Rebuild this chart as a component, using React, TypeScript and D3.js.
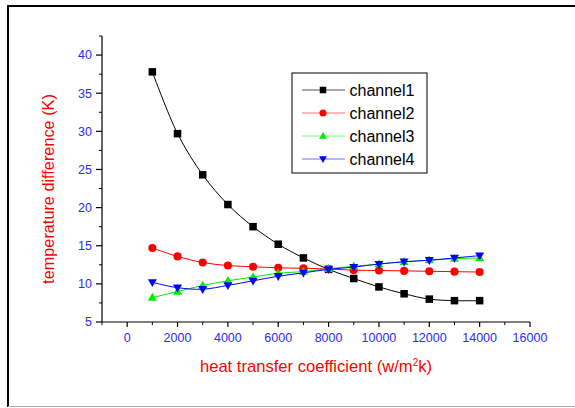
import React from "react";
import * as d3 from "d3";

// heat transfer coefficient (w/m²k)
const coefficients = [1000, 2000, 3000, 4000, 5000, 6000, 7000, 8000, 9000, 10000, 11000, 12000, 13000, 14000];

// temperature difference (K) per channel
const channel1 = [37.8, 29.7, 24.3, 20.4, 17.5, 15.2, 13.4, 11.9, 10.7, 9.6, 8.7, 8.0, 7.8, 7.8];
const channel2 = [14.7, 13.6, 12.8, 12.4, 12.25, 12.1, 12.05, 11.95, 11.8, 11.75, 11.7, 11.65, 11.6, 11.55];
const channel3 = [8.2, 9.0, 9.8, 10.4, 10.9, 11.4, 11.6, 12.0, 12.3, 12.6, 12.9, 13.1, 13.3, 13.4];
const channel4 = [10.2, 9.5, 9.3, 9.8, 10.4, 11.0, 11.45, 11.9, 12.2, 12.6, 12.9, 13.1, 13.4, 13.7];

const seriesNames = ["channel1", "channel2", "channel3", "channel4"];
const seriesValues = [channel1, channel2, channel3, channel4];
const seriesColors = ["#000000", "#ff0000", "#00ee00", "#0000ff"];
const legendLineColors = ["#555555", "#ff7070", "#70ff70", "#7070ff"];
const markerTypes = ["square", "circle", "triangleUp", "triangleDown"];

const xMajorTicks = [0, 2000, 4000, 6000, 8000, 10000, 12000, 14000, 16000];
const xMinorTicks = [-1000, 1000, 3000, 5000, 7000, 9000, 11000, 13000, 15000];
const yMajorTicks = [5, 10, 15, 20, 25, 30, 35, 40];
const yMinorTicks = [7.5, 12.5, 17.5, 22.5, 27.5, 32.5, 37.5, 42.5];

const FONT = "Arial, 'Liberation Sans', sans-serif";
const TICK_COLOR = "#2b2bff";
const TITLE_COLOR = "#ff0000";

function Marker({ type, x, y, color, size }: { type: string; x: number; y: number; color: string; size: number }) {
  if (type === "square") {
    return <rect x={x - size / 2} y={y - size / 2} width={size} height={size} fill={color} />;
  }
  if (type === "circle") {
    return <circle cx={x} cy={y} r={size / 2 + 0.3} fill={color} />;
  }
  const h = size * 1.05;
  const w = size * 1.2;
  if (type === "triangleUp") {
    return <path d={`M${x},${y - h * 0.6}L${x + w / 2},${y + h * 0.4}L${x - w / 2},${y + h * 0.4}Z`} fill={color} />;
  }
  return <path d={`M${x},${y + h * 0.6}L${x + w / 2},${y - h * 0.4}L${x - w / 2},${y - h * 0.4}Z`} fill={color} />;
}

export default function App() {
  const width = 575;
  const height = 408;

  const x = d3.scaleLinear().domain([-1000, 16000]).range([102, 530]);
  const y = d3.scaleLinear().domain([5, 42.5]).range([322, 36]);

  const line = d3
    .line<[number, number]>()
    .x((d) => x(d[0]))
    .y((d) => y(d[1]))
    .curve(d3.curveCatmullRom.alpha(0.5));

  const y0 = y(5);
  const xLeft = x(-1000);

  const legendX = 292;
  const legendY = 73;
  const legendW = 135;
  const legendH = 100;
  const rowYs = [90, 113, 136, 159];

  return (
    <svg
      width={width}
      height={height}
      style={{ position: "absolute", left: 0, top: 0, background: "#fff" }}
      fontFamily={FONT}
    >
      {/* page frame */}
      <line x1={8} y1={6} x2={575} y2={6} stroke="#000" strokeWidth={2} />
      <line x1={8} y1={5} x2={8} y2={407} stroke="#000" strokeWidth={2} />
      <line x1={8} y1={406.5} x2={575} y2={406.5} stroke="#aaa" strokeWidth={1} />

      {/* y axis */}
      <line x1={xLeft} y1={y(42.5)} x2={xLeft} y2={y0} stroke="#000" strokeWidth={1.2} />
      {yMajorTicks.map((t) => (
        <g key={`ym${t}`}>
          <line x1={xLeft - 6} x2={xLeft} y1={y(t)} y2={y(t)} stroke="#000" strokeWidth={1.2} />
          <text x={xLeft - 10} y={y(t)} dy="0.35em" textAnchor="end" fontSize={12.5} fill={TICK_COLOR}>
            {t}
          </text>
        </g>
      ))}
      {yMinorTicks.map((t) => (
        <line key={`yn${t}`} x1={xLeft - 3} x2={xLeft} y1={y(t)} y2={y(t)} stroke="#000" strokeWidth={1} />
      ))}

      {/* x axis */}
      <line x1={xLeft} y1={y0} x2={x(16000)} y2={y0} stroke="#000" strokeWidth={1.2} />
      {xMajorTicks.map((t) => (
        <g key={`xm${t}`}>
          <line x1={x(t)} x2={x(t)} y1={y0} y2={y0 + 5} stroke="#000" strokeWidth={1.2} />
          <text x={x(t)} y={y0 + 16} dy="0.35em" textAnchor="middle" fontSize={12.5} fill={TICK_COLOR}>
            {t}
          </text>
        </g>
      ))}
      {xMinorTicks.map((t) => (
        <line key={`xn${t}`} x1={x(t)} x2={x(t)} y1={y0} y2={y0 + 3} stroke="#000" strokeWidth={1} />
      ))}

      {/* axis titles */}
      <text x={316} y={372} textAnchor="middle" fontSize={16.6} fill={TITLE_COLOR}>
        heat transfer coefficient (w/m
        <tspan dy={-6} fontSize={10}>2</tspan>
        <tspan dy={6}>k)</tspan>
      </text>
      <text
        transform={`translate(54,189) rotate(-90)`}
        textAnchor="middle"
        fontSize={16.3}
        fill={TITLE_COLOR}
      >
        temperature difference (K)
      </text>

      {/* series */}
      {seriesValues.map((vals, i) => {
        const pts = coefficients.map((c, j) => [c, vals[j]] as [number, number]);
        return (
          <g key={seriesNames[i]}>
            <path d={line(pts) || ""} fill="none" stroke={seriesColors[i]} strokeWidth={1} />
            {pts.map((p, j) => (
              <Marker key={j} type={markerTypes[i]} x={x(p[0])} y={y(p[1])} color={seriesColors[i]} size={7.5} />
            ))}
          </g>
        );
      })}

      {/* legend */}
      <rect x={legendX} y={legendY} width={legendW} height={legendH} fill="#fff" stroke="#000" strokeWidth={1} />
      {seriesNames.map((name, i) => (
        <g key={`lg${name}`}>
          <line x1={302} x2={345} y1={rowYs[i]} y2={rowYs[i]} stroke={legendLineColors[i]} strokeWidth={1} />
          <Marker type={markerTypes[i]} x={323} y={rowYs[i]} color={seriesColors[i]} size={6.5} />
          <text x={349.5} y={rowYs[i]} dy="0.35em" fontSize={16} fill="#000">
            {name}
          </text>
        </g>
      ))}
    </svg>
  );
}
